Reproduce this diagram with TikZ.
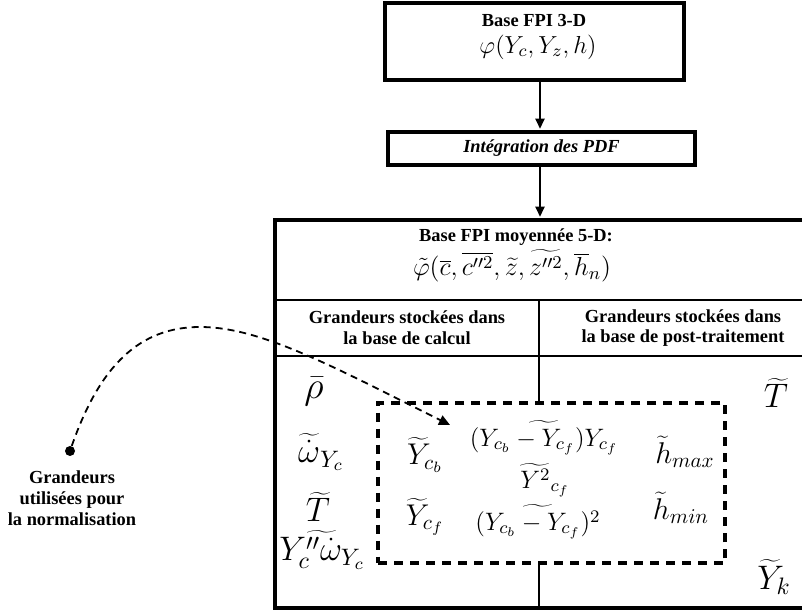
\RequirePackage{fix-cm}
\documentclass[tikz,border=0pt]{standalone}
\usepackage[no-math]{fontspec}
\setmainfont{Liberation Serif}
\usetikzlibrary{arrows.meta,calc}

\begin{document}
\begin{tikzpicture}[x=0.5pt,y=-0.5pt,
  frame/.style={draw,line width=1.7pt,inner sep=0pt,rectangle},
  lbl/.style={font=\fontsize{9.2}{10.3}\selectfont\bfseries,align=center,inner sep=0pt},
  conn/.style={line width=0.75pt,-{Triangle[length=5pt,width=4.6pt]},shorten >=0.8pt},
  rule/.style={line width=1.4pt},
  grp/.style={draw,line width=1.7pt,dash pattern=on 4.6pt off 3.4pt,inner sep=0pt,rectangle},
  lead/.style={line width=0.9pt,dash pattern=on 3.5pt off 2.5pt,-{Triangle[length=5.5pt,width=5pt]}},
  mbig/.style={font=\fontsize{17}{20}\selectfont,inner sep=0pt},
  mmid/.style={font=\fontsize{15}{18}\selectfont,inner sep=0pt},
  msm/.style={font=\fontsize{12.6}{15}\selectfont,inner sep=0pt}]

\useasboundingbox (0,0) rectangle (802,613);
\fill[white] (0,0) rectangle (802,613);
\clip (0,0) rectangle (802,613);

% boxes of the chain (the table runs on past the right edge)
\node[frame,minimum width=149.5pt,minimum height=38.5pt] (top) at (534.5,41.5) {};
\node[frame,minimum width=153.5pt,minimum height=16.5pt,
      font=\fontsize{9.2}{10.3}\selectfont\bfseries\itshape] (int) at (541.5,148.5) {Intégration des PDF};
\node[frame,minimum width=272pt,minimum height=194pt] (big) at (547,414) {};

% texts of the upper box
\node[lbl] (t1) at (534,21) {Base FPI 3-D};
\node[font=\fontsize{12.3}{15}\selectfont,inner sep=0pt] (f1) at (538,47) {$\varphi(Y_c,Y_z,h)$};

% arrows between the boxes
\coordinate (axis) at (540,0);
\draw[conn] (top.south -| axis) -- (int.north -| axis);
\draw[conn] (int.south -| axis) -- (big.north -| axis);

% header of the averaged table
\node[lbl] (t2) at (516,237) {Base FPI moyennée 5-D:};
\node[font=\fontsize{13}{16}\selectfont,inner sep=0pt] (f2) at (512,266)
  {$\tilde{\varphi}(\overline{c},\overline{c''^2},\widetilde{z},\widetilde{z''^2},\overline{h}_n)$};

% grouping box of the shared quantities
\node[grp,fill=white,minimum width=173.5pt,minimum height=80pt] (grp) at (551.5,483) {};

% table rules
\coordinate (r1) at (0,300);
\coordinate (r2) at (0,356);
\coordinate (col) at (539,0);
\draw[rule] (big.west |- r1) -- (big.east |- r1);
\draw[rule] (big.west |- r2) -- (big.east |- r2);
\draw[rule] (col |- r1) -- (grp.north -| col);
\draw[rule] (grp.south -| col) -- (big.south -| col);
\node[grp,minimum width=173.5pt,minimum height=80pt] at (grp.center) {};

% column headers
\node[lbl] (hl) at (407,328) {Grandeurs stockées dans\\la base de calcul};
\node[lbl] (hr) at (683,328) {Grandeurs stockées dans\\la base de post-traitement};

% quantities of the computation table
\node[font=\fontsize{19}{22}\selectfont,inner sep=0pt] (rho) at (314,392) {$\bar{\rho}$};
\node[mbig] (wdot) at (321,452) {$\widetilde{\dot{\omega}}_{Y_c}$};
\node[mbig] (tl) at (318,507) {$\widetilde{T}$};
\node[mbig] (yw) at (322,550) {$\widetilde{Y''_c\dot{\omega}_{Y_c}}$};

% shared quantities
\node[mmid] (ycb) at (425,455) {$\widetilde{Y}_{c_b}$};
\node[mmid] (ycf) at (425,517) {$\widetilde{Y}_{c_f}$};
\node[msm] (m1) at (544,438) {$\widetilde{(Y_{c_b}-Y_{c_f})Y_{c_f}}$};
\node[msm] (m2) at (545,480) {$\widetilde{Y^2}_{c_f}$};
\node[msm] (m3) at (538,522) {$\widetilde{(Y_{c_b}-Y_{c_f})^2}$};
\node[mmid] (hmax) at (685,452) {$\widetilde{h}_{max}$};
\node[mmid] (hmin) at (681,508) {$\widetilde{h}_{min}$};

% quantities of the post-processing table
\node[mbig] (tr) at (776,393) {$\widetilde{T}$};
\node[mbig] (yk) at (774,577) {$\widetilde{Y}_k$};

% normalisation note
\node[circle,fill,inner sep=0pt,minimum size=5pt] (dot) at (70,451) {};
\node[font=\fontsize{9.2}{10.6}\selectfont\bfseries,align=center,inner sep=0pt] (note) at (72,498)
  {Grandeurs\\utilisées pour\\la normalisation};
\coordinate (aim) at (450,425);
\draw[lead] (dot) .. controls (100,365) and (140,327) .. (200,327)
                  .. controls (260,327) and (330,365) .. (aim);
\end{tikzpicture}
\end{document}
